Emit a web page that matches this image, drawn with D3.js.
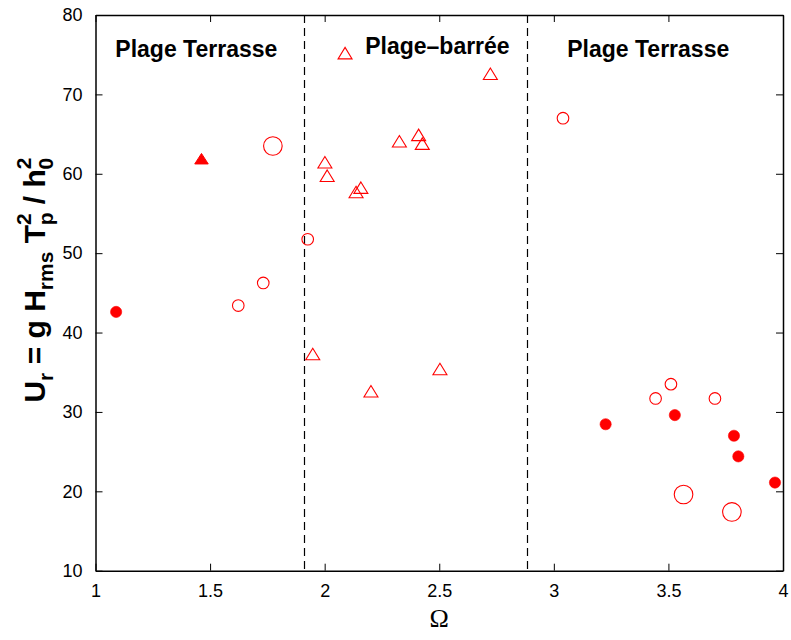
<!DOCTYPE html>
<html>
<head>
<meta charset="utf-8">
<script src="https://cdn.jsdelivr.net/npm/d3@7/dist/d3.min.js"></script>
<style>
  html, body { margin: 0; padding: 0; background: #fff; }
  svg { display: block; }
</style>
</head>
<body>
<svg id="chart" width="791" height="640"></svg>
<script>
// ---- data ----
const xTicks = [1, 1.5, 2, 2.5, 3, 3.5, 4];
const yTicks = [10, 20, 30, 40, 50, 60, 70, 80];
const xTickLabels = ["1", "1.5", "2", "2.5", "3", "3.5", "4"];
const yTickLabels = ["10", "20", "30", "40", "50", "60", "70", "80"];

const filledCircleX = [1.09, 3.226, 3.528, 3.786, 3.805, 3.965];
const filledCircleY = [42.6, 28.45, 29.6, 27.0, 24.4, 21.1];

const filledTriangleX = [1.4625];
const filledTriangleY = [61.9];

const openSmallCircleX = [1.623, 1.732, 1.926, 3.040, 3.444, 3.511, 3.703];
const openSmallCircleY = [43.4, 46.25, 51.75, 67.0, 31.7, 33.5, 31.7];

const openLargeCircleX = [1.774, 3.566, 3.777];
const openLargeCircleY = [63.5, 19.6, 17.4];

const openTriangleX = [2.089, 2.001, 2.011, 2.137, 2.158, 2.326, 2.410, 2.426, 2.723, 1.948, 2.202, 2.503];
const openTriangleY = [75.2, 61.45, 59.76, 57.7, 58.25, 64.1, 64.9, 63.8, 72.6, 37.3, 32.6, 35.4];

const boundaries = [1.91, 2.881];

const regionLabels = ["Plage Terrasse", "Plage\u2013barrée", "Plage Terrasse"];
const regionLabelX = [1.44, 2.492, 3.412];
const regionLabelY = [74.7, 75.1, 74.7];

// ---- layout ----
const mLeft = 95.5, mRight = 783, mTop = 15, mBottom = 570.7;
const red = "#ff0000";

const svg = d3.select("#chart");
const x = d3.scaleLinear().domain([1, 4]).range([mLeft, mRight]);
const y = d3.scaleLinear().domain([10, 80]).range([mBottom, mTop]);

const zip = (a, b) => a.map((v, i) => [v, b[i]]);

// dashed boundaries
svg.append("g").selectAll("line").data(boundaries).join("line")
  .attr("x1", d => Math.round(x(d)) + 0.5).attr("x2", d => Math.round(x(d)) + 0.5)
  .attr("y1", y(80)).attr("y2", y(10))
  .attr("stroke", "#000").attr("stroke-width", 1.2)
  .attr("stroke-dasharray", "8,5");

// axes
const fontTick = "18px 'Liberation Sans', Arial, Helvetica, sans-serif";
const xAxisB = d3.axisBottom(x).tickValues(xTicks).tickFormat((d, i) => xTickLabels[i]).tickSizeInner(-7).tickSizeOuter(0).tickPadding(14);
const xAxisT = d3.axisTop(x).tickValues(xTicks).tickFormat("").tickSizeInner(-7).tickSizeOuter(0);
const yAxisL = d3.axisLeft(y).tickValues(yTicks).tickFormat((d, i) => yTickLabels[i]).tickSizeInner(-7).tickSizeOuter(0).tickPadding(13);
const yAxisR = d3.axisRight(y).tickValues(yTicks).tickFormat("").tickSizeInner(-7).tickSizeOuter(0);

function styleAxis(g) {
  g.select(".domain").attr("stroke", "#000").attr("stroke-width", 1.5);
  g.selectAll(".tick line").attr("stroke", "#000").attr("stroke-width", 1);
  g.selectAll(".tick text").style("font", fontTick).attr("fill", "#000");
}
svg.append("g").attr("transform", `translate(0,${mBottom})`).call(xAxisB).call(styleAxis);
svg.append("g").attr("transform", `translate(0,${mTop})`).call(xAxisT).call(styleAxis);
svg.append("g").attr("transform", `translate(${mLeft},0)`).call(yAxisL).call(styleAxis);
svg.append("g").attr("transform", `translate(${mRight},0)`).call(yAxisR).call(styleAxis);

// triangle path helper
function triPath(cx, cy, w, h) {
  return `M${cx},${cy - h / 2}L${cx + w / 2},${cy + h / 2}L${cx - w / 2},${cy + h / 2}Z`;
}

const marks = svg.append("g");

// open triangles
marks.selectAll("path.otri").data(zip(openTriangleX, openTriangleY)).join("path")
  .attr("class", "otri")
  .attr("d", d => triPath(x(d[0]), y(d[1]), 14, 11.5))
  .attr("fill", "none").attr("stroke", red).attr("stroke-width", 1.1);

// filled triangle
marks.selectAll("path.ftri").data(zip(filledTriangleX, filledTriangleY)).join("path")
  .attr("class", "ftri")
  .attr("d", d => triPath(x(d[0]), y(d[1]), 13.5, 10.5))
  .attr("fill", red).attr("stroke", red).attr("stroke-width", 1);

// open small circles
marks.selectAll("circle.osc").data(zip(openSmallCircleX, openSmallCircleY)).join("circle")
  .attr("class", "osc")
  .attr("cx", d => x(d[0])).attr("cy", d => y(d[1])).attr("r", 5.8)
  .attr("fill", "none").attr("stroke", red).attr("stroke-width", 1.1);

// open large circles
marks.selectAll("circle.olc").data(zip(openLargeCircleX, openLargeCircleY)).join("circle")
  .attr("class", "olc")
  .attr("cx", d => x(d[0])).attr("cy", d => y(d[1])).attr("r", 9.3)
  .attr("fill", "none").attr("stroke", red).attr("stroke-width", 1.1);

// filled circles
marks.selectAll("circle.fc").data(zip(filledCircleX, filledCircleY)).join("circle")
  .attr("class", "fc")
  .attr("cx", d => x(d[0])).attr("cy", d => y(d[1])).attr("r", 5.6)
  .attr("fill", red).attr("stroke", red).attr("stroke-width", 0.6);

// region labels
svg.append("g").selectAll("text").data(regionLabels).join("text")
  .attr("x", (d, i) => x(regionLabelX[i]))
  .attr("y", (d, i) => y(regionLabelY[i]))
  .attr("text-anchor", "middle")
  .style("font", "bold 23px 'Liberation Sans', Arial, Helvetica, sans-serif")
  .attr("fill", "#000")
  .text(d => d);

// x label
svg.append("text")
  .attr("x", x(2.5))
  .attr("y", 627)
  .attr("text-anchor", "middle")
  .style("font", "26px 'Liberation Serif', 'Times New Roman', serif")
  .attr("fill", "#000")
  .text("\u03A9");

// y label
const yl = svg.append("text")
  .attr("transform", "translate(45,280) rotate(-90)")
  .attr("text-anchor", "middle")
  .style("font", "bold 30px 'Liberation Sans', Arial, Helvetica, sans-serif")
  .attr("fill", "#000");
const sub = 21;
yl.append("tspan").text("U");
yl.append("tspan").attr("dy", 8).style("font-size", sub + "px").text("r");
yl.append("tspan").attr("dy", -8).text(" = g H");
yl.append("tspan").attr("dy", 8).style("font-size", sub + "px").text("rms");
yl.append("tspan").attr("dy", -8).text(" T");
yl.append("tspan").attr("dy", -14).style("font-size", sub + "px").text("2");
yl.append("tspan").attr("dx", -12).attr("dy", 22).style("font-size", sub + "px").text("p");
yl.append("tspan").attr("dy", -8).text(" / h");
yl.append("tspan").attr("dy", -14).style("font-size", sub + "px").text("2");
yl.append("tspan").attr("dx", -12).attr("dy", 22).style("font-size", sub + "px").text("0");
</script>
</body>
</html>
